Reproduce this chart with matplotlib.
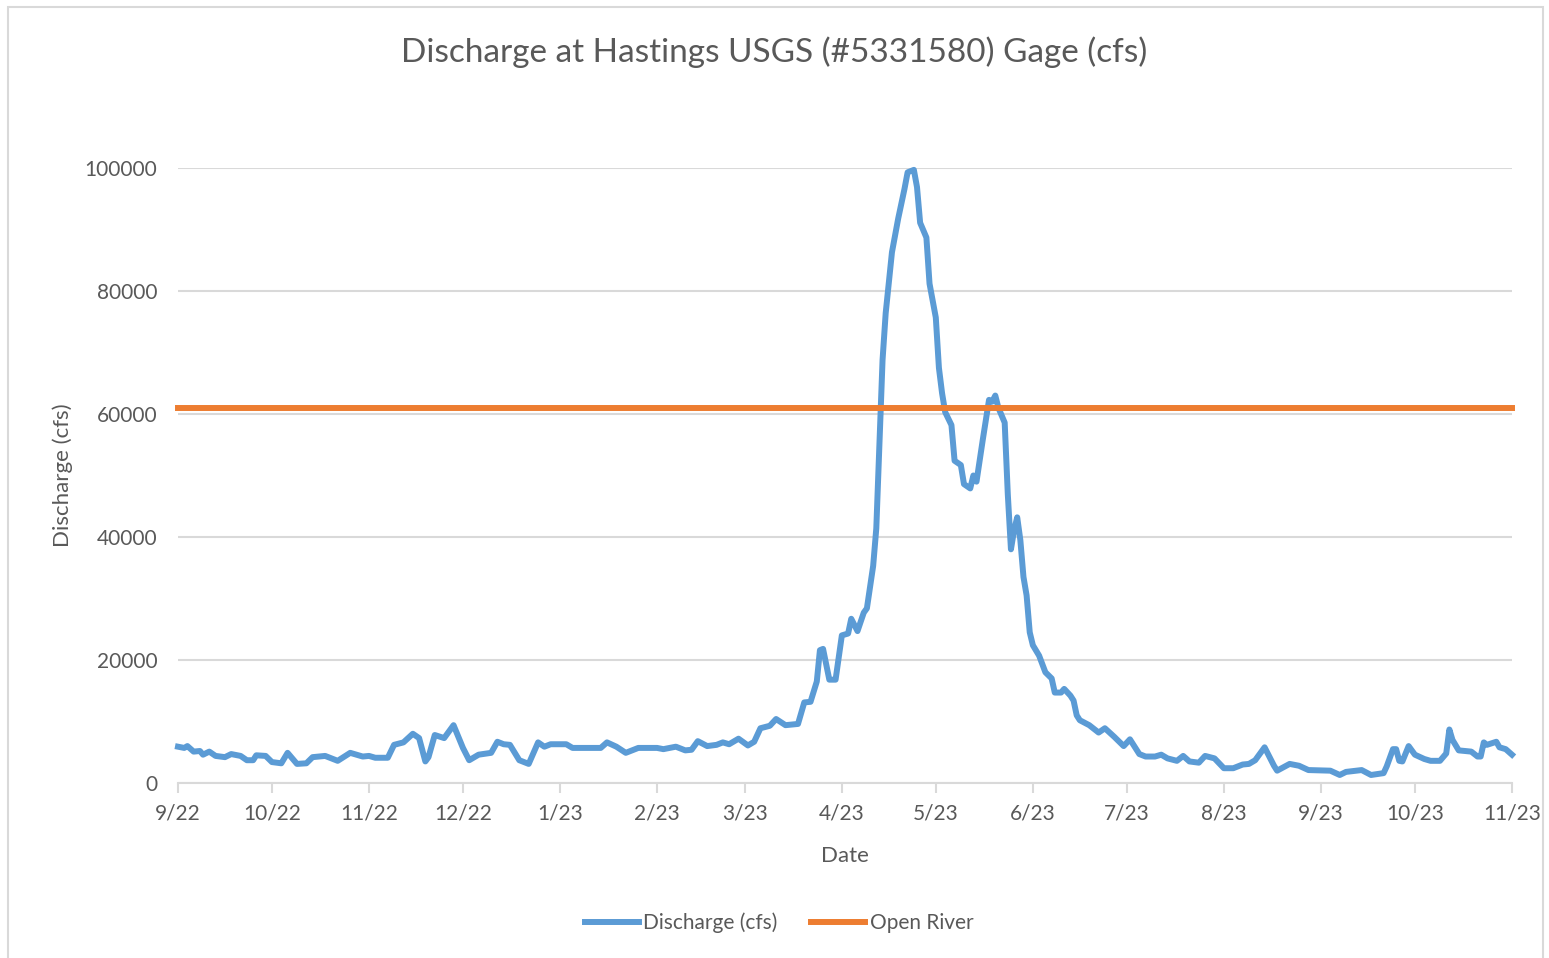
import matplotlib
matplotlib.use("Agg")
import matplotlib.pyplot as plt
import pandas as pd
from matplotlib.patches import Rectangle

# daily discharge (cfs)
dates = [
    "2022-09-01", "2022-09-03", "2022-09-04", "2022-09-06", "2022-09-08", "2022-09-09",
    "2022-09-11", "2022-09-13", "2022-09-16", "2022-09-18", "2022-09-21", "2022-09-23",
    "2022-09-25", "2022-09-26", "2022-09-29",
    "2022-10-01", "2022-10-04", "2022-10-06", "2022-10-09", "2022-10-12", "2022-10-14",
    "2022-10-18", "2022-10-22", "2022-10-26", "2022-10-30",
    "2022-11-01", "2022-11-03", "2022-11-07", "2022-11-09", "2022-11-12", "2022-11-15",
    "2022-11-17", "2022-11-19", "2022-11-20", "2022-11-22", "2022-11-25", "2022-11-28",
    "2022-12-01", "2022-12-03", "2022-12-06", "2022-12-10", "2022-12-12", "2022-12-14",
    "2022-12-16", "2022-12-19", "2022-12-22", "2022-12-25", "2022-12-27", "2022-12-29",
    "2023-01-03", "2023-01-05", "2023-01-11", "2023-01-14", "2023-01-16", "2023-01-19",
    "2023-01-22", "2023-01-26",
    "2023-02-01", "2023-02-03", "2023-02-07", "2023-02-10", "2023-02-12", "2023-02-14",
    "2023-02-17", "2023-02-20", "2023-02-22", "2023-02-24", "2023-02-27",
    "2023-03-02", "2023-03-04", "2023-03-06", "2023-03-09", "2023-03-11", "2023-03-14",
    "2023-03-18", "2023-03-20", "2023-03-22", "2023-03-24", "2023-03-25", "2023-03-26",
    "2023-03-28", "2023-03-30",
    "2023-04-01", "2023-04-03", "2023-04-04", "2023-04-06", "2023-04-08", "2023-04-09",
    "2023-04-11", "2023-04-12", "2023-04-13", "2023-04-14", "2023-04-15", "2023-04-17",
    "2023-04-19", "2023-04-21", "2023-04-22", "2023-04-24", "2023-04-25", "2023-04-26",
    "2023-04-28", "2023-04-29",
    "2023-05-01", "2023-05-02", "2023-05-03", "2023-05-04", "2023-05-06", "2023-05-07",
    "2023-05-09", "2023-05-10", "2023-05-12", "2023-05-13", "2023-05-14", "2023-05-16",
    "2023-05-18", "2023-05-19", "2023-05-20", "2023-05-21", "2023-05-23", "2023-05-24",
    "2023-05-25", "2023-05-26", "2023-05-27", "2023-05-28", "2023-05-29", "2023-05-30",
    "2023-05-31",
    "2023-06-01", "2023-06-03", "2023-06-05", "2023-06-07", "2023-06-08", "2023-06-10",
    "2023-06-11", "2023-06-13", "2023-06-14", "2023-06-15", "2023-06-16", "2023-06-19",
    "2023-06-22", "2023-06-24", "2023-06-27", "2023-06-30",
    "2023-07-02", "2023-07-05", "2023-07-07", "2023-07-10", "2023-07-12", "2023-07-14",
    "2023-07-17", "2023-07-19", "2023-07-21", "2023-07-24", "2023-07-26", "2023-07-29",
    "2023-08-01", "2023-08-04", "2023-08-07", "2023-08-09", "2023-08-11", "2023-08-14",
    "2023-08-15", "2023-08-17", "2023-08-18", "2023-08-22", "2023-08-25", "2023-08-28",
    "2023-09-04", "2023-09-07", "2023-09-09", "2023-09-14", "2023-09-17", "2023-09-21",
    "2023-09-22", "2023-09-24", "2023-09-25", "2023-09-26", "2023-09-27", "2023-09-29",
    "2023-10-01", "2023-10-04", "2023-10-06", "2023-10-09", "2023-10-11", "2023-10-12",
    "2023-10-13", "2023-10-15", "2023-10-19", "2023-10-21", "2023-10-22", "2023-10-23",
    "2023-10-24", "2023-10-27", "2023-10-28", "2023-10-30", "2023-11-01",
]
discharge = [
    5900, 5700, 6000, 5100, 5200, 4600,
    5100, 4400, 4200, 4700, 4400, 3700,
    3700, 4500, 4400,
    3400, 3200, 4900, 3100, 3200, 4200,
    4400, 3600, 4900, 4300,
    4400, 4100, 4100, 6200, 6600, 8000,
    7300, 3500, 4200, 7800, 7300, 9400,
    5700, 3700, 4600, 4900, 6700, 6300,
    6200, 3700, 3100, 6600, 5900, 6300,
    6300, 5700, 5700, 5700, 6600, 5900,
    4900, 5700,
    5700, 5500, 5900, 5300, 5400, 6800,
    6000, 6200, 6600, 6300, 7200,
    6100, 6700, 8900, 9300, 10400, 9400,
    9600, 13100, 13200, 16500, 21600, 21800,
    16800, 16800,
    24000, 24300, 26700, 24700, 27700, 28400,
    35300, 41400, 55100, 68800, 76400, 86300,
    91800, 96600, 99300, 99700, 96900, 91100,
    88700, 81200,
    75700, 67500, 63400, 60300, 58200, 52400,
    51700, 48600, 47900, 50000, 49000, 55800,
    62300, 62000, 63000, 61000, 58600, 46900,
    38000, 41100, 43200, 39500, 33500, 30500,
    24500,
    22400, 20700, 18000, 17000, 14700, 14700,
    15300, 14200, 13400, 11000, 10200, 9400,
    8200, 8900, 7500, 6000,
    7100, 4700, 4300, 4300, 4600, 4000,
    3600, 4400, 3500, 3300, 4400, 4000,
    2400, 2400, 3000, 3100, 3700, 5800,
    4800, 2800, 2000, 3100, 2800, 2100,
    2000, 1300, 1800, 2100, 1300, 1600,
    2700, 5500, 5500, 3600, 3500, 6000,
    4600, 3900, 3600, 3600, 4800, 8700,
    7000, 5300, 5100, 4300, 4300, 6600,
    6200, 6700, 5800, 5500, 4600,
]
open_river = 61000

month_ticks = [
    "2022-09-01", "2022-10-01", "2022-11-01", "2022-12-01", "2023-01-01",
    "2023-02-01", "2023-03-01", "2023-04-01", "2023-05-01", "2023-06-01",
    "2023-07-01", "2023-08-01", "2023-09-01", "2023-10-01", "2023-11-01",
]
month_labels = [
    "9/22", "10/22", "11/22", "12/22", "1/23", "2/23", "3/23", "4/23",
    "5/23", "6/23", "7/23", "8/23", "9/23", "10/23", "11/23",
]
y_ticks = [0, 20000, 40000, 60000, 80000, 100000]

TEXT = "#595959"
GRID = "#d9d9d9"

plt.rcParams["font.family"] = ["Lato", "DejaVu Sans"]

fig = plt.figure(figsize=(15.49, 9.58), dpi=100)
fig.patches.append(Rectangle((0.005, -0.01), 0.991, 1.003, transform=fig.transFigure,
                             fill=False, edgecolor=GRID, linewidth=1.5))

ax = fig.add_axes([0.1149, 0.1827, 0.8612, 0.6419])

x = pd.to_datetime(dates)
ticks = pd.to_datetime(month_ticks)

ax.plot(x, discharge, color="#5B9BD5", linewidth=4.3, solid_joinstyle="round",
        clip_on=False, zorder=3, label="Discharge (cfs)")
ax.plot([ticks[0], ticks[-1]], [open_river, open_river], color="#ED7D31",
        linewidth=4.3, clip_on=False, zorder=3, label="Open River")

ax.set_xlim(ticks[0], ticks[-1])
ax.set_ylim(0, 100000)
ax.set_xticks(ticks)
ax.set_xticklabels(month_labels)
ax.set_yticks(y_ticks)
ax.set_yticklabels([str(v) for v in y_ticks])

ax.grid(axis="y", color=GRID, linewidth=1.5)
ax.set_axisbelow(True)
for side in ["top", "right", "left"]:
    ax.spines[side].set_visible(False)
ax.spines["bottom"].set_color(GRID)
ax.spines["bottom"].set_linewidth(1.5)

ax.tick_params(axis="x", colors=GRID, length=7, width=1.5, labelcolor=TEXT,
               labelsize=15, pad=8)
ax.tick_params(axis="y", length=0, labelcolor=TEXT, labelsize=15, pad=15)

fig.text(0.5, 1 - 52 / 958, "Discharge at Hastings USGS (#5331580) Gage (cfs)",
         color=TEXT, fontsize=24, ha="center", va="center")
ax.set_xlabel("Date", color=TEXT, fontsize=16, labelpad=16)
ax.set_ylabel("Discharge (cfs)", color=TEXT, fontsize=16, labelpad=8)

fig.legend(loc="center", bbox_to_anchor=(0.503, 0.0365), ncol=2, frameon=False,
           fontsize=15, handlelength=2.6, handletextpad=0.2, columnspacing=1.6,
           labelcolor=TEXT)

fig.savefig("out.png", dpi=100)
